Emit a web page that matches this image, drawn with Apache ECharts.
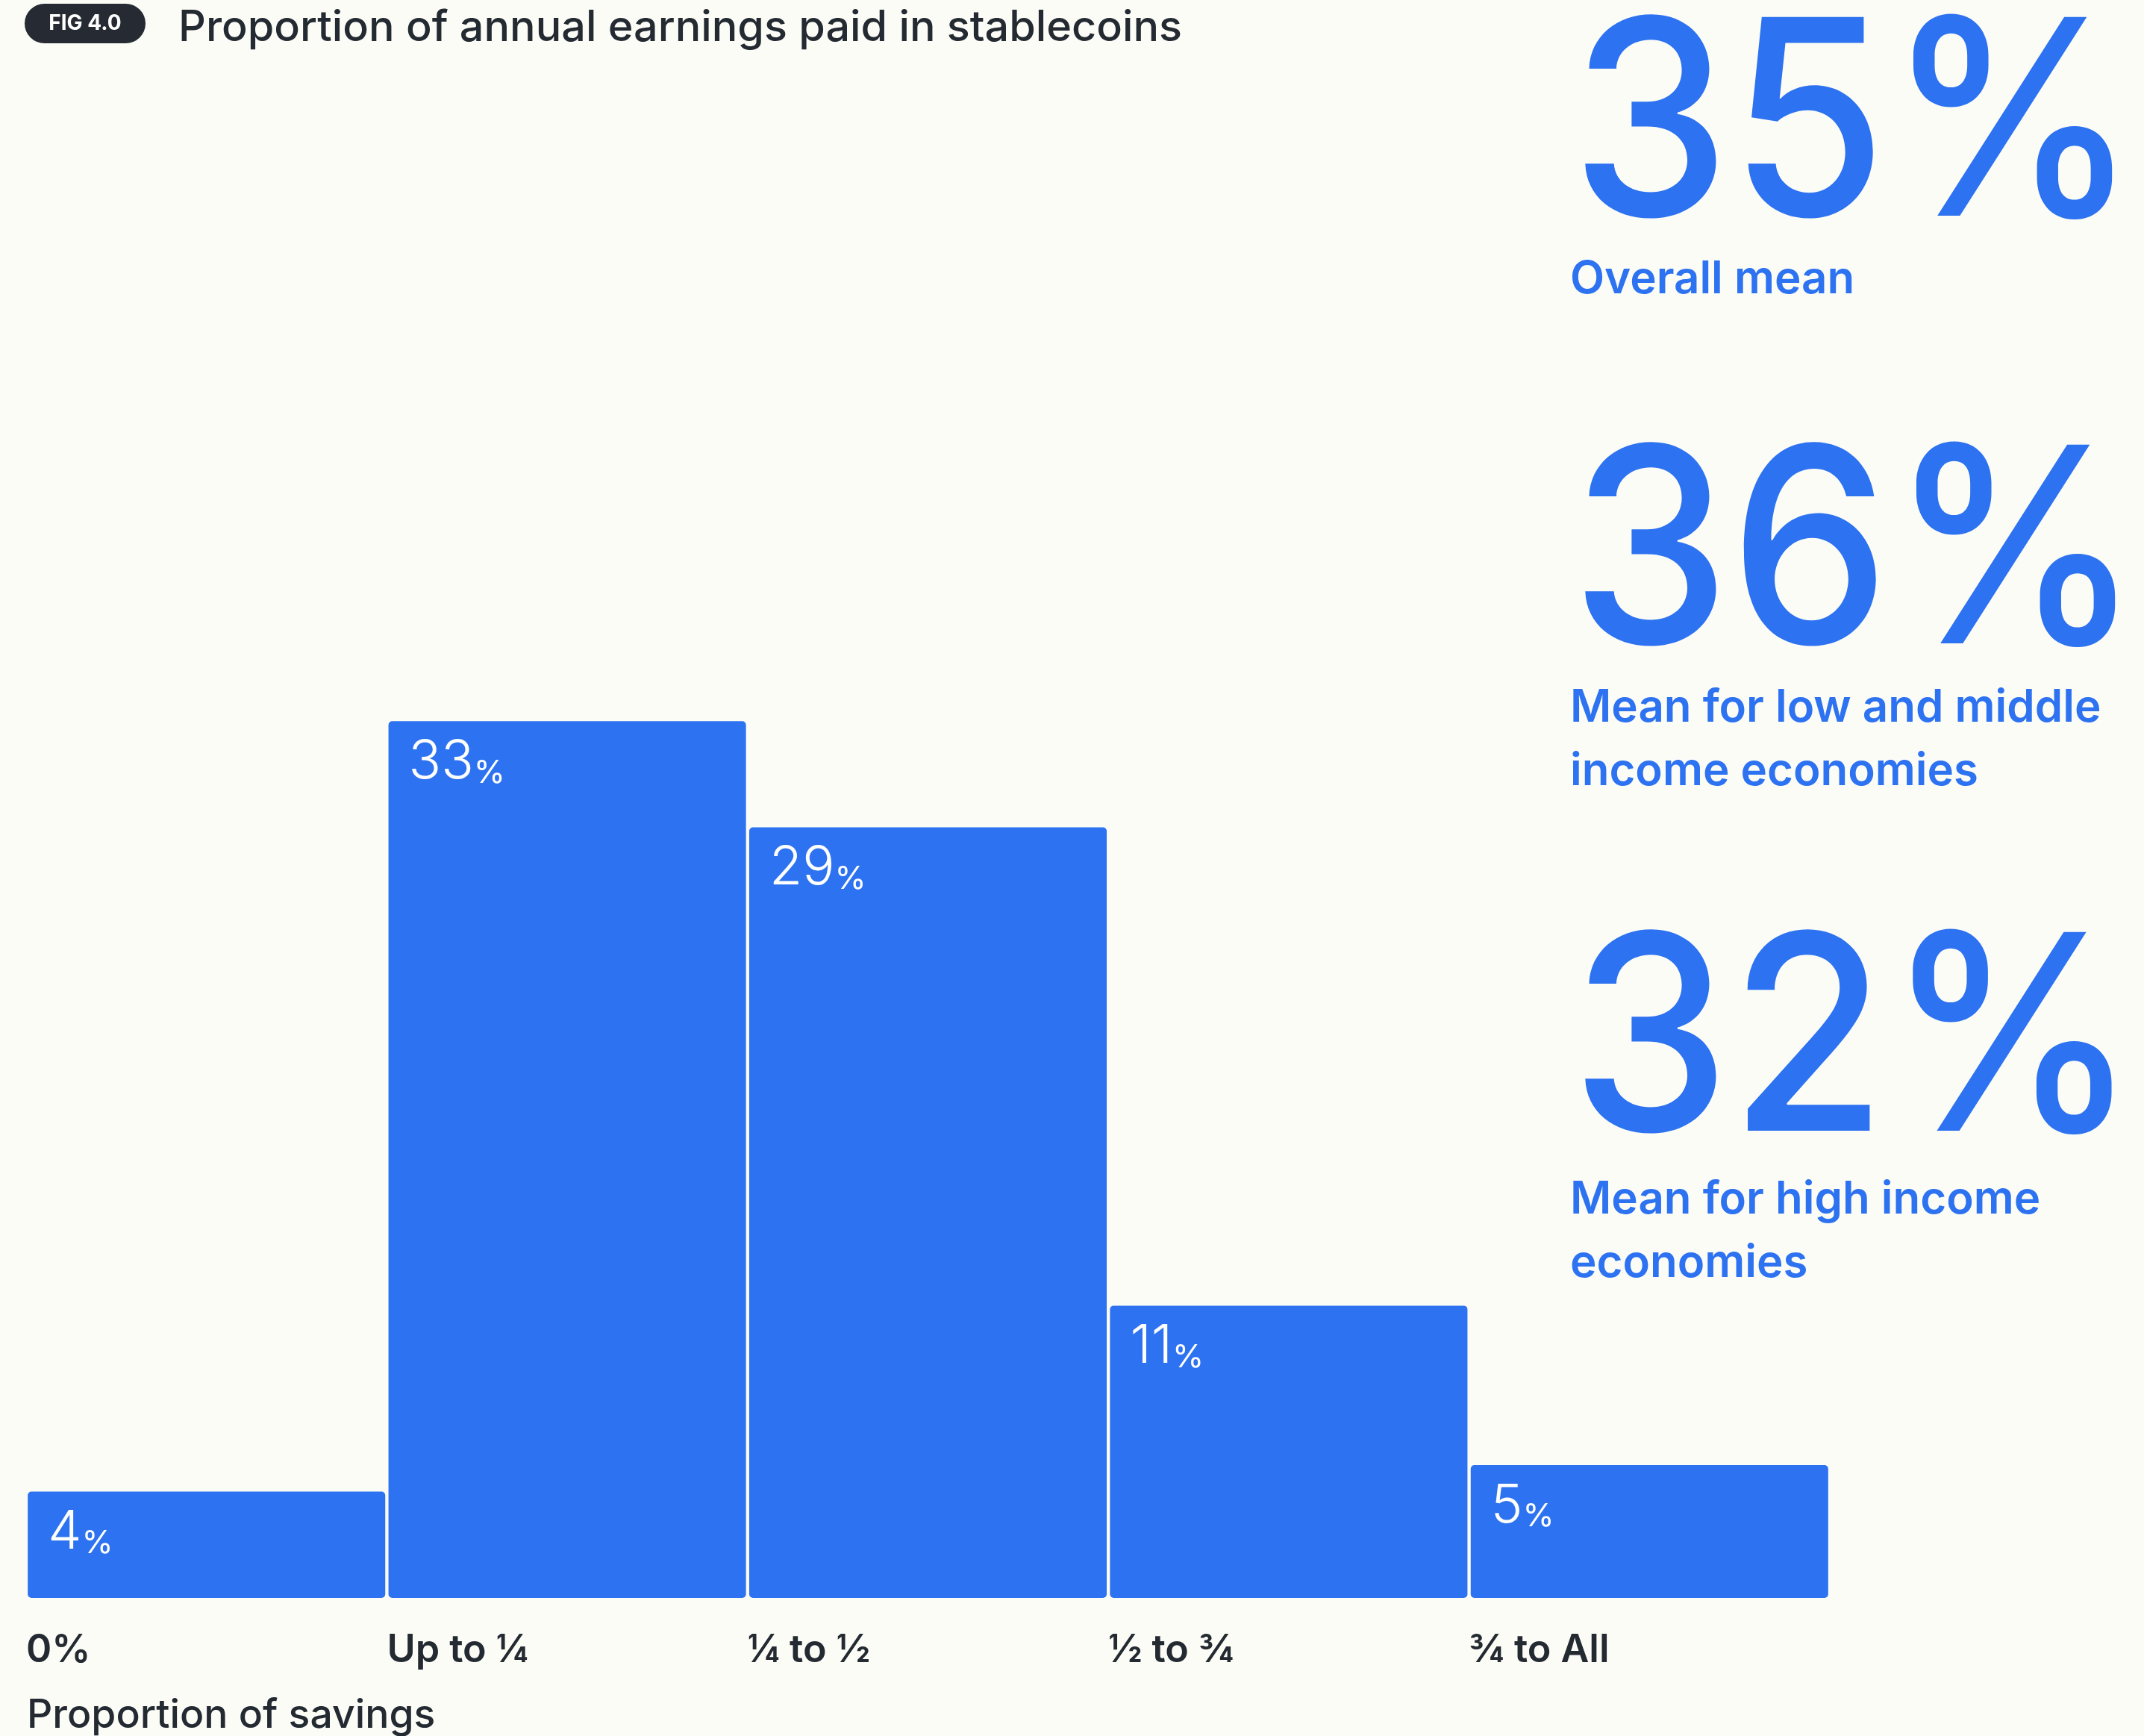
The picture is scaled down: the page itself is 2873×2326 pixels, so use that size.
<!DOCTYPE html>
<html>
<head>
<meta charset="utf-8">
<script src="https://cdn.jsdelivr.net/npm/echarts@6/dist/echarts.min.js"></script>
<style>
  html, body { margin: 0; padding: 0; background: #FCFCF7; }
  #chart { width: 2873px; height: 2326px; }
</style>
</head>
<body>
<div id="chart"></div>
<script>
// Share of respondents by proportion of savings held in stablecoins
const categories = ['0%', 'Up to ¼', '¼ to ½', '½ to ¾', '¾ to All'];
const shares = [4, 33, 29, 11, 5];

// Headline means shown beside the histogram
const statValues = [35, 36, 32];
const statCaptions = [
  ['Overall mean'],
  ['Mean for low and middle', 'income economies'],
  ['Mean for high income', 'economies']
];

const figTag = 'FIG 4.0';
const chartTitle = 'Proportion of annual earnings paid in stablecoins';
const axisTitle = 'Proportion of savings';

// Layout and styling
const BLUE = '#2D72F0';
const INK = '#242A31';
const FONT = 'Inter, "Noto Sans", sans-serif';
const statFont = '500 366px ' + FONT;
const statInkLeft = 2121;      // where the big figures start
const statInkWidth = 710;      // width of the widest figure
const statCaptionX = 2104;
const statNumberY = [179, 752, 1405];   // middle of the big figures
const statCaptionY = [375, 949, 1608];  // middle of the first caption line
const captionLineGap = 85;

// ink extents of a string, used to fit the big figures into their column
const measureCtx = document.createElement('canvas').getContext('2d');
function inkBox(text, font) {
  measureCtx.font = font;
  const m = measureCtx.measureText(text);
  return { left: -m.actualBoundingBoxLeft, right: m.actualBoundingBoxRight };
}
const refBox = inkBox(statValues[0] + '%', statFont);
const statScaleX = statInkWidth / (refBox.right - refBox.left);

const chart = echarts.init(document.getElementById('chart'), null, { renderer: 'canvas' });

const graphics = [
  {
    type: 'rect',
    shape: { x: 33, y: 5, width: 162, height: 53, r: 26.5 },
    style: { fill: '#262B33' }
  },
  {
    type: 'text',
    x: 114, y: 32,
    style: { text: figTag, fill: '#FFFFFF', font: '700 28px ' + FONT, align: 'center', verticalAlign: 'middle' }
  },
  {
    type: 'text',
    x: 239, y: 38,
    style: { text: chartTitle, fill: INK, font: '500 57.5px ' + FONT, align: 'left', verticalAlign: 'middle' }
  },
  {
    type: 'text',
    x: 36, y: 2299,
    style: { text: axisTitle, fill: INK, font: '500 53.5px ' + FONT, align: 'left', verticalAlign: 'middle' }
  }
];

statValues.forEach((v, i) => {
  const label = v + '%';
  const box = inkBox(label, statFont);
  graphics.push({
    type: 'text',
    x: statInkLeft - box.left * statScaleX,
    y: statNumberY[i],
    scaleX: statScaleX,
    style: { text: label, fill: BLUE, font: statFont, align: 'left', verticalAlign: 'middle' }
  });
  statCaptions[i].forEach((line, j) => {
    graphics.push({
      type: 'text',
      x: statCaptionX, y: statCaptionY[i] + j * captionLineGap,
      style: { text: line, fill: BLUE, font: '600 60px ' + FONT, align: 'left', verticalAlign: 'middle' }
    });
  });
});

chart.setOption({
  backgroundColor: '#FCFCF7',
  animation: false,
  graphic: graphics,
  grid: { left: 35, right: 421, top: 717, bottom: 185 },
  xAxis: [
    {
      type: 'category',
      data: categories,
      axisLine: { show: false },
      axisTick: { show: false },
      axisLabel: { show: false }
    },
    {
      // bin edges: each label sits at the left edge of its bar
      type: 'value',
      min: 0, max: categories.length, interval: 1,
      position: 'bottom',
      axisLine: { show: false },
      axisTick: { show: false },
      splitLine: { show: false },
      axisLabel: {
        show: true,
        showMinLabel: true,
        showMaxLabel: true,
        margin: 44,
        align: 'left',
        color: INK,
        fontFamily: FONT,
        fontWeight: 600,
        fontSize: 52,
        formatter: v => categories[v] || ''
      }
    }
  ],
  yAxis: {
    type: 'value',
    min: 0, max: 40,
    show: false,
    splitLine: { show: false }
  },
  series: [{
    type: 'bar',
    xAxisIndex: 0,
    data: shares,
    barCategoryGap: '0.9%',
    itemStyle: { color: BLUE, borderRadius: 5 },
    label: {
      show: true,
      position: [27, 11],
      formatter: p => '{n|' + p.value + '}{p|%}',
      rich: {
        n: { color: '#FFFFFF', fontFamily: FONT, fontWeight: 300, fontSize: 72, lineHeight: 80, verticalAlign: 'bottom' },
        p: { color: '#FFFFFF', fontFamily: FONT, fontWeight: 400, fontSize: 43, lineHeight: 62, verticalAlign: 'bottom' }
      }
    }
  }]
});
</script>
</body>
</html>
